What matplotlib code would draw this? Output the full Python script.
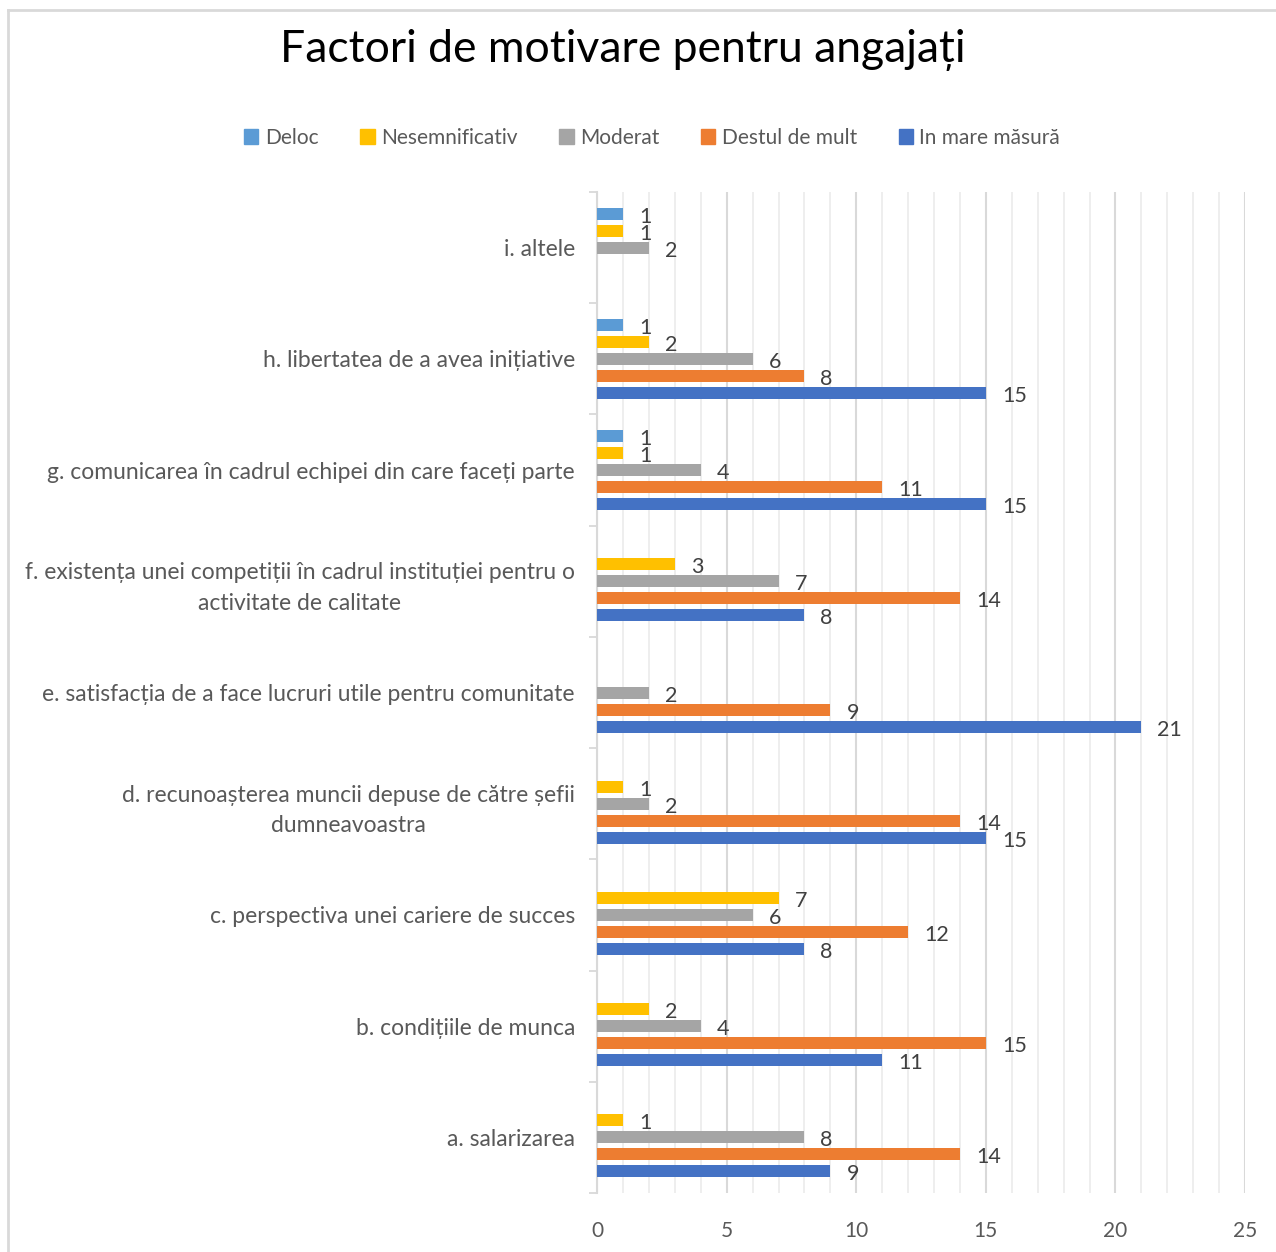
import numpy as np
import matplotlib
matplotlib.use('Agg')
import matplotlib.pyplot as plt
from matplotlib.lines import Line2D

plt.rcParams['font.family'] = ['Lato', 'DejaVu Sans']

# Categorii (de jos in sus)
categorii = [
    'a. salarizarea',
    'b. condițiile de munca',
    'c. perspectiva unei cariere de succes',
    'd. recunoașterea muncii depuse de către șefii\ndumneavoastra',
    'e. satisfacția de a face lucruri utile pentru comunitate',
    'f. existența unei competiții în cadrul instituției pentru o\nactivitate de calitate',
    'g. comunicarea în cadrul echipei din care faceți parte',
    'h. libertatea de a avea inițiative',
    'i. altele',
]

serii = ['Deloc', 'Nesemnificativ', 'Moderat', 'Destul de mult', 'In mare măsură']
culori = ['#5B9BD5', '#FFC000', '#A5A5A5', '#ED7D31', '#4472C4']

deloc = [0, 0, 0, 0, 0, 0, 1, 1, 1]
nesemnificativ = [1, 2, 7, 1, 0, 3, 1, 2, 1]
moderat = [8, 4, 6, 2, 2, 7, 4, 6, 2]
destul = [14, 15, 12, 14, 9, 14, 11, 8, 0]
mare = [9, 11, 8, 15, 21, 8, 15, 15, 0]

valori = [deloc, nesemnificativ, moderat, destul, mare]

fig = plt.figure(figsize=(12.76, 12.52), dpi=100)
ax = fig.add_axes([0.468, 0.0471, 0.5077, 0.7995])

slot = 0.153
h = 0.108
y = np.arange(len(categorii))
for i, (nume, col, v) in enumerate(zip(serii, culori, valori)):
    off = (2 - i) * slot
    v = np.array(v)
    m = v > 0
    ax.barh(y[m] + off, v[m], height=h, color=col, label=nume, zorder=3)
    for yy, val in zip(y[m] + off, v[m]):
        ax.annotate(str(val), (val, yy), xytext=(16, -3), textcoords='offset pixels',
                    ha='left', va='center', fontsize=15.5, color='#404040', zorder=4)

ax.set_xlim(0, 25)
ax.set_ylim(-0.5, len(categorii) - 0.5)

# grila
ax.set_xticks(np.arange(0, 26, 5))
ax.set_xticks(np.arange(0, 26, 1), minor=True)
ax.grid(axis='x', which='minor', color='#EDEDED', lw=1.3, zorder=0)
ax.grid(axis='x', which='major', color='#D9D9D9', lw=1.5, zorder=1)
ax.tick_params(axis='x', which='both', length=0, pad=20, labelsize=15, labelcolor='#595959')

ax.set_yticks(np.arange(-0.5, len(categorii), 1))
ax.set_yticklabels([])
ax.set_yticks(y, minor=True)
ax.set_yticklabels(categorii, minor=True, multialignment='center', linespacing=1.55)
ax.tick_params(axis='y', which='major', length=6, width=1.3, color='#D9D9D9', direction='out')
ax.tick_params(axis='y', which='minor', length=0, pad=16, labelsize=16.5, labelcolor='#595959')

for s in ['top', 'right', 'bottom']:
    ax.spines[s].set_visible(False)
ax.spines['left'].set_color('#D9D9D9')
ax.spines['left'].set_linewidth(1.5)

fig.text(0.488, 0.960, 'Factori de motivare pentru angajați', ha='center', va='center',
         fontsize=32, color='black')

handles = [plt.Rectangle((0, 0), 1, 1, color=c) for c in culori]
fig.legend(handles, serii, loc='center', bbox_to_anchor=(0.511, 0.89), ncol=5, frameon=False,
           fontsize=15, labelcolor='#595959', handlelength=0.7, handleheight=0.7,
           handletextpad=0.3, columnspacing=2.0)

# chenar
fig.add_artist(Line2D([8 / 1276, 8 / 1276], [0, 1 - 10 / 1252], color='#D9D9D9', lw=2,
                      transform=fig.transFigure))
fig.add_artist(Line2D([8 / 1276, 1], [1 - 10 / 1252, 1 - 10 / 1252], color='#D9D9D9', lw=2,
                      transform=fig.transFigure))

plt.savefig('out.png', dpi=100)
